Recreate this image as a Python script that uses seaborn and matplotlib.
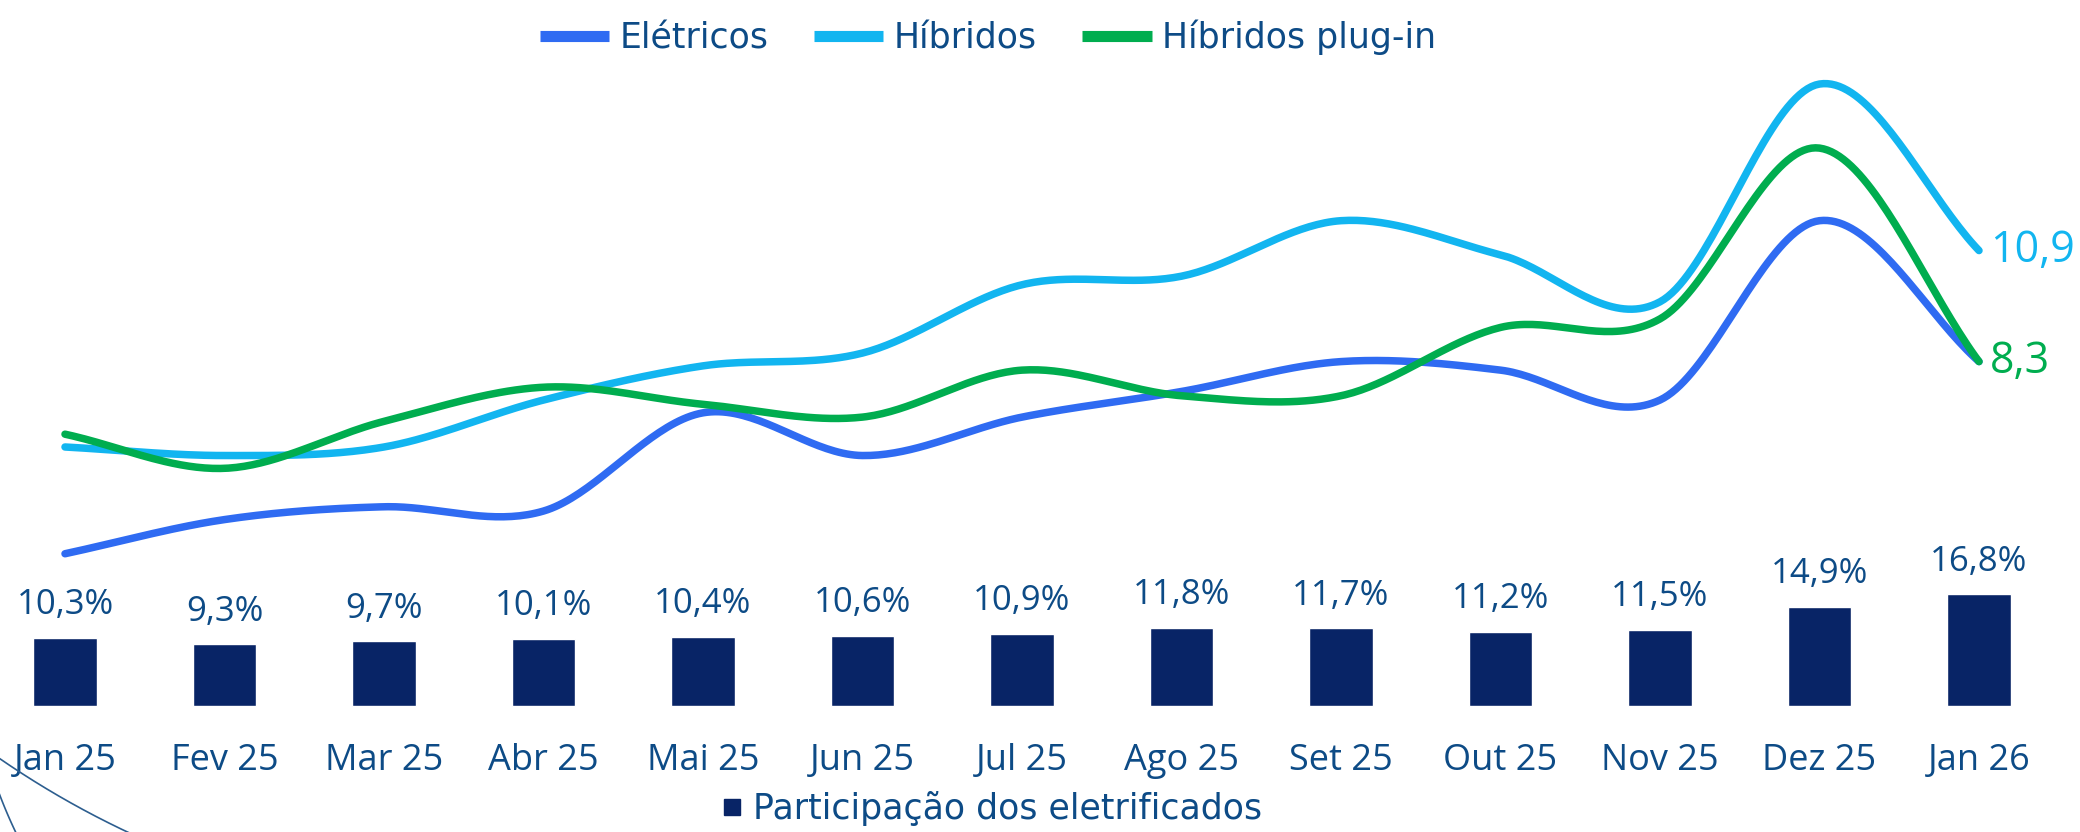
import numpy as np
import pandas as pd
import matplotlib
matplotlib.use('Agg')
import matplotlib.pyplot as plt
import seaborn as sns
from matplotlib.lines import Line2D

# ---------------------------------------------------------------
# data
# ---------------------------------------------------------------
months = ['Jan 25', 'Fev 25', 'Mar 25', 'Abr 25', 'Mai 25', 'Jun 25', 'Jul 25',
          'Ago 25', 'Set 25', 'Out 25', 'Nov 25', 'Dez 25', 'Jan 26']

eletricos = [3.8, 4.6, 4.9, 4.8, 7.1, 6.1, 7.0, 7.6, 8.3, 8.1, 7.4, 11.6, 8.3]
hibridos = [6.3, 6.1, 6.3, 7.4, 8.2, 8.5, 10.1, 10.3, 11.6, 10.8, 9.7, 14.8, 10.9]
plugin = [6.6, 5.8, 6.9, 7.7, 7.3, 7.0, 8.1, 7.5, 7.5, 9.1, 9.3, 13.3, 8.3]

participacao = [10.3, 9.3, 9.7, 10.1, 10.4, 10.6, 10.9, 11.8, 11.7, 11.2, 11.5, 14.9, 16.8]

series_names = ['Elétricos', 'Híbridos', 'Híbridos plug-in']
end_labels = ['', '10,9', '8,3']

# colours
C_ELET = '#2F6BF2'
C_HIB = '#12B5F0'
C_PLUG = '#00AD4F'
C_BAR = '#082466'
C_TEXT = '#0D4B86'


def smooth(values, n=40):
    """cardinal (Catmull-Rom) spline through the points, only for drawing"""
    y = np.asarray(values, dtype=float)
    m = np.zeros_like(y)
    m[1:-1] = (y[2:] - y[:-2]) / 2.0
    m[0] = (y[1] - y[0])
    m[-1] = (y[-1] - y[-2])
    xs, ys = [], []
    for i in range(len(y) - 1):
        t = np.linspace(0, 1, n, endpoint=False)
        h00 = 2 * t**3 - 3 * t**2 + 1
        h10 = t**3 - 2 * t**2 + t
        h01 = -2 * t**3 + 3 * t**2
        h11 = t**3 - t**2
        xs.append(i + t)
        ys.append(h00 * y[i] + h10 * m[i] + h01 * y[i + 1] + h11 * m[i + 1])
    xs.append(np.array([len(y) - 1]))
    ys.append(np.array([y[-1]]))
    return np.concatenate(xs), np.concatenate(ys)


sns.set_theme(style='white')
plt.rcParams['font.family'] = ['Open Sans', 'DejaVu Sans']

W, H, DPI = 2080, 832, 100
fig = plt.figure(figsize=(W / DPI, H / DPI), dpi=DPI)
fig.patch.set_facecolor('white')

# x positions: first category at 65 px, step 159.5 px
x0_px, step_px = 65.0, 159.5
xlim = (-x0_px / step_px, (W - x0_px) / step_px)

# ---------------------------------------------------------------
# bars (share of electrified)
# ---------------------------------------------------------------
ax_bar = fig.add_axes([0, 0, 1, 1])
bar_df = pd.DataFrame({'mes': months, 'part': participacao})
sns.barplot(data=bar_df, x='mes', y='part', order=months, color=C_BAR,
            width=0.40, saturation=1, ax=ax_bar)
base_px, bar_scale = 126.0, 6.65          # baseline from bottom, px per unit
ax_bar.set_ylim(-base_px / bar_scale, (H - base_px) / bar_scale)
ax_bar.set_xlim(*xlim)
ax_bar.axis('off')

for i, v in enumerate(participacao):
    ax_bar.annotate(f'{v:.1f}%'.replace('.', ','), xy=(i, v), xytext=(0, 17),
                    textcoords='offset points', ha='center', va='baseline',
                    fontsize=25, color=C_TEXT)

for i, m in enumerate(months):
    ax_bar.text(i, -8.2, m, ha='center', va='center', fontsize=26, color=C_TEXT)

# ---------------------------------------------------------------
# lines (thousand units)
# ---------------------------------------------------------------
ax_line = fig.add_axes([0, 0, 1, 1])
ax_line.patch.set_alpha(0)
zero_px, line_scale = 116.0, 42.7
ax_line.set_ylim(-zero_px / line_scale, (H - zero_px) / line_scale)

for vals, col, lbl in zip([eletricos, hibridos, plugin], [C_ELET, C_HIB, C_PLUG], end_labels):
    xs, ys = smooth(vals)
    sns.lineplot(x=xs, y=ys, color=col, linewidth=5.4, sort=False,
                 solid_capstyle='round', ax=ax_line)
    if lbl:
        ax_line.annotate(lbl, xy=(len(vals) - 1, vals[-1]), xytext=(8, 0),
                         textcoords='offset points', ha='left', va='center',
                         fontsize=31, color=col)

ax_line.set_xlim(*xlim)
ax_line.axis('off')

# ---------------------------------------------------------------
# legends
# ---------------------------------------------------------------
leg_font = {'family': ['DejaVu Sans'], 'size': 25}
handles = [Line2D([0], [0], color=c, lw=8, solid_capstyle='butt')
           for c in [C_ELET, C_HIB, C_PLUG]]
fig.legend(handles, series_names, loc='center', bbox_to_anchor=(0.475, 0.955),
           ncol=3, frameon=False, handlelength=2.0, handletextpad=0.3,
           columnspacing=1.3, labelcolor=C_TEXT, prop=leg_font)

h2 = [Line2D([0], [0], color=C_BAR, marker='s', markersize=12, lw=0)]
fig.legend(h2, ['Participação dos eletrificados'], loc='center',
           bbox_to_anchor=(0.477, 0.028), frameon=False, handlelength=0.6,
           handletextpad=0.3, labelcolor=C_TEXT, prop=leg_font)

# decorative thin arcs in the lower left corner (pixel coords, top-down)
t = np.linspace(0, 2 * np.pi, 6000)
for cx, cy, r in [(512.0, 15.0, 903.0), (467.0, 617.0, 500.0)]:
    px = cx + r * np.cos(t)
    py = cy + r * np.sin(t)
    keep = (px >= -2) & (px <= 200) & (py >= 740) & (py <= 840)
    px, py = px[keep], py[keep]
    order = np.argsort(px)
    fig.add_artist(Line2D(px[order] / W, 1 - py[order] / H, transform=fig.transFigure,
                          color='#2D5E8F', lw=1.2))

fig.savefig('out.png', dpi=DPI, facecolor='white')
